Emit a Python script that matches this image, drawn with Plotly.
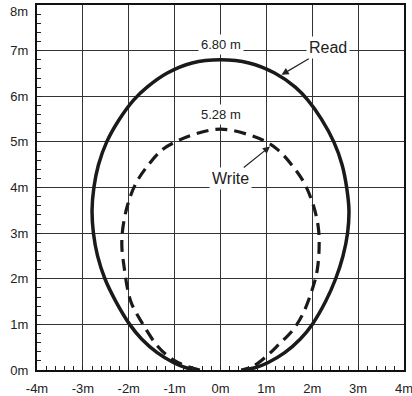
import plotly.graph_objects as go

# Read range curve (solid), metres
read_x = [-0.50, -0.75, -1.02, -1.38, -1.72, -1.98, -2.28, -2.52, -2.68, -2.77, -2.80, -2.76, -2.66,
          -2.48, -2.20, -1.89, -1.60, -1.16, -0.62, 0.0, 0.62, 1.18, 1.63, 1.90, 2.20, 2.47, 2.65,
          2.75, 2.80, 2.77, 2.67, 2.51, 2.29, 2.00, 1.74, 1.40, 1.03, 0.75, 0.50]
read_y = [0.0, 0.05, 0.16, 0.38, 0.68, 1.00, 1.50, 2.00, 2.50, 3.00, 3.50, 4.00, 4.50,
          5.00, 5.50, 5.92, 6.20, 6.51, 6.73, 6.80, 6.73, 6.51, 6.20, 5.92, 5.50, 5.00, 4.50,
          4.00, 3.50, 3.00, 2.50, 2.00, 1.50, 1.00, 0.68, 0.38, 0.16, 0.05, 0.0]

# Write range curve (dashed)
write_x = [-0.45, -0.70, -1.03, -1.36, -1.72, -1.94, -2.03, -2.10, -2.15, -2.13, -2.03, -1.85, -1.60,
           -1.28, -0.98, -0.62, 0.0, 0.64, 1.00, 1.26, 1.58, 1.83, 2.02, 2.13, 2.15, 2.11, 2.02,
           1.80, 1.58, 1.26, 1.00, 0.71, 0.45]
write_y = [0.0, 0.07, 0.22, 0.51, 1.05, 1.46, 1.80, 2.25, 2.70, 3.10, 3.60, 4.08, 4.46,
           4.82, 5.00, 5.15, 5.28, 5.15, 5.00, 4.82, 4.46, 4.09, 3.62, 3.14, 2.70, 2.20, 1.83,
           1.24, 0.88, 0.55, 0.30, 0.08, 0.0]

x_ticks = [-4, -3, -2, -1, 0, 1, 2, 3, 4]
x_labels = ["-4m", "-3m", "-2m", "-1m", "0m", "1m", "2m", "3m", "4m"]
y_ticks = [0, 1, 2, 3, 4, 5, 6, 7, 8]
y_labels = ["0m", "1m", "2m", "3m", "4m", "5m", "6m", "7m", "8m"]

read_max_label = "6.80 m"
write_max_label = "5.28 m"

FONT = "Liberation Sans, Arial, Helvetica, sans-serif"

fig = go.Figure()
fig.add_trace(go.Scatter(x=read_x, y=read_y, mode="lines",
                         line=dict(color="#1a1a1a", width=3.5, shape="spline", smoothing=1.0),
                         hoverinfo="skip", showlegend=False))
fig.add_trace(go.Scatter(x=write_x, y=write_y, mode="lines",
                         line=dict(color="#1a1a1a", width=3.2, shape="spline", smoothing=1.0,
                                   dash="12px,7px"),
                         hoverinfo="skip", showlegend=False))

ann_font = dict(family=FONT, size=13, color="#222")
fig.add_annotation(x=0, y=7.13, text=read_max_label, showarrow=False, font=ann_font,
                   bgcolor="white", borderpad=2)
fig.add_annotation(x=0, y=5.59, text=write_max_label, showarrow=False, font=ann_font,
                   bgcolor="white", borderpad=2)
fig.add_annotation(x=1.33, y=6.47, ax=46, ay=-27, text="Read", showarrow=True,
                   arrowhead=2, arrowsize=1.2, arrowwidth=1.2, arrowcolor="#222",
                   font=dict(family=FONT, size=16, color="#222"), bgcolor="white", borderpad=2)
fig.add_annotation(x=1.08, y=4.90, ax=-40, ay=32, text="Write", showarrow=True,
                   arrowhead=2, arrowsize=1.2, arrowwidth=1.2, arrowcolor="#222",
                   font=dict(family=FONT, size=16, color="#222"), bgcolor="white", borderpad=2)

# top y label sits just below the top edge (as in the reference) so it is not cut off
y_ticktext = y_labels[:-1] + [""]
fig.add_annotation(xref="paper", x=0, xanchor="right", xshift=-8,
                   yref="y", y=y_ticks[-1], yanchor="top", yshift=2,
                   text=y_labels[-1], showarrow=False, borderpad=0,
                   font=dict(family=FONT, size=13, color="#222"))

axis_common = dict(showline=True, linecolor="#111", linewidth=2, mirror=True,
                   showgrid=True, gridcolor="#333", gridwidth=1, zeroline=False,
                   ticks="inside", ticklen=0, tickcolor="#333",
                   ticklabeloverflow="allow", automargin=False,
                   tickfont=dict(family=FONT, size=13, color="#222"))

fig.update_xaxes(range=[-4, 4], tickvals=x_ticks, ticktext=x_labels, ticklabelstandoff=5,
                 minor=dict(ticks="inside", dtick=0.2, ticklen=4, tickcolor="#222", tickwidth=1,
                            showgrid=False),
                 **axis_common)
fig.update_yaxes(range=[0, 8], tickvals=y_ticks, ticktext=y_ticktext, ticklabelstandoff=4,
                 minor=dict(ticks="inside", dtick=0.2, ticklen=4, tickcolor="#222", tickwidth=1,
                            showgrid=False),
                 **axis_common)

fig.update_layout(width=412, height=396, margin=dict(l=37, r=8, t=5, b=26),
                  plot_bgcolor="white", paper_bgcolor="white",
                  font=dict(family=FONT))

fig.write_html("out.html", config={"displayModeBar": False},
               post_script="document.body.style.margin='0';document.body.style.overflow='hidden';")
